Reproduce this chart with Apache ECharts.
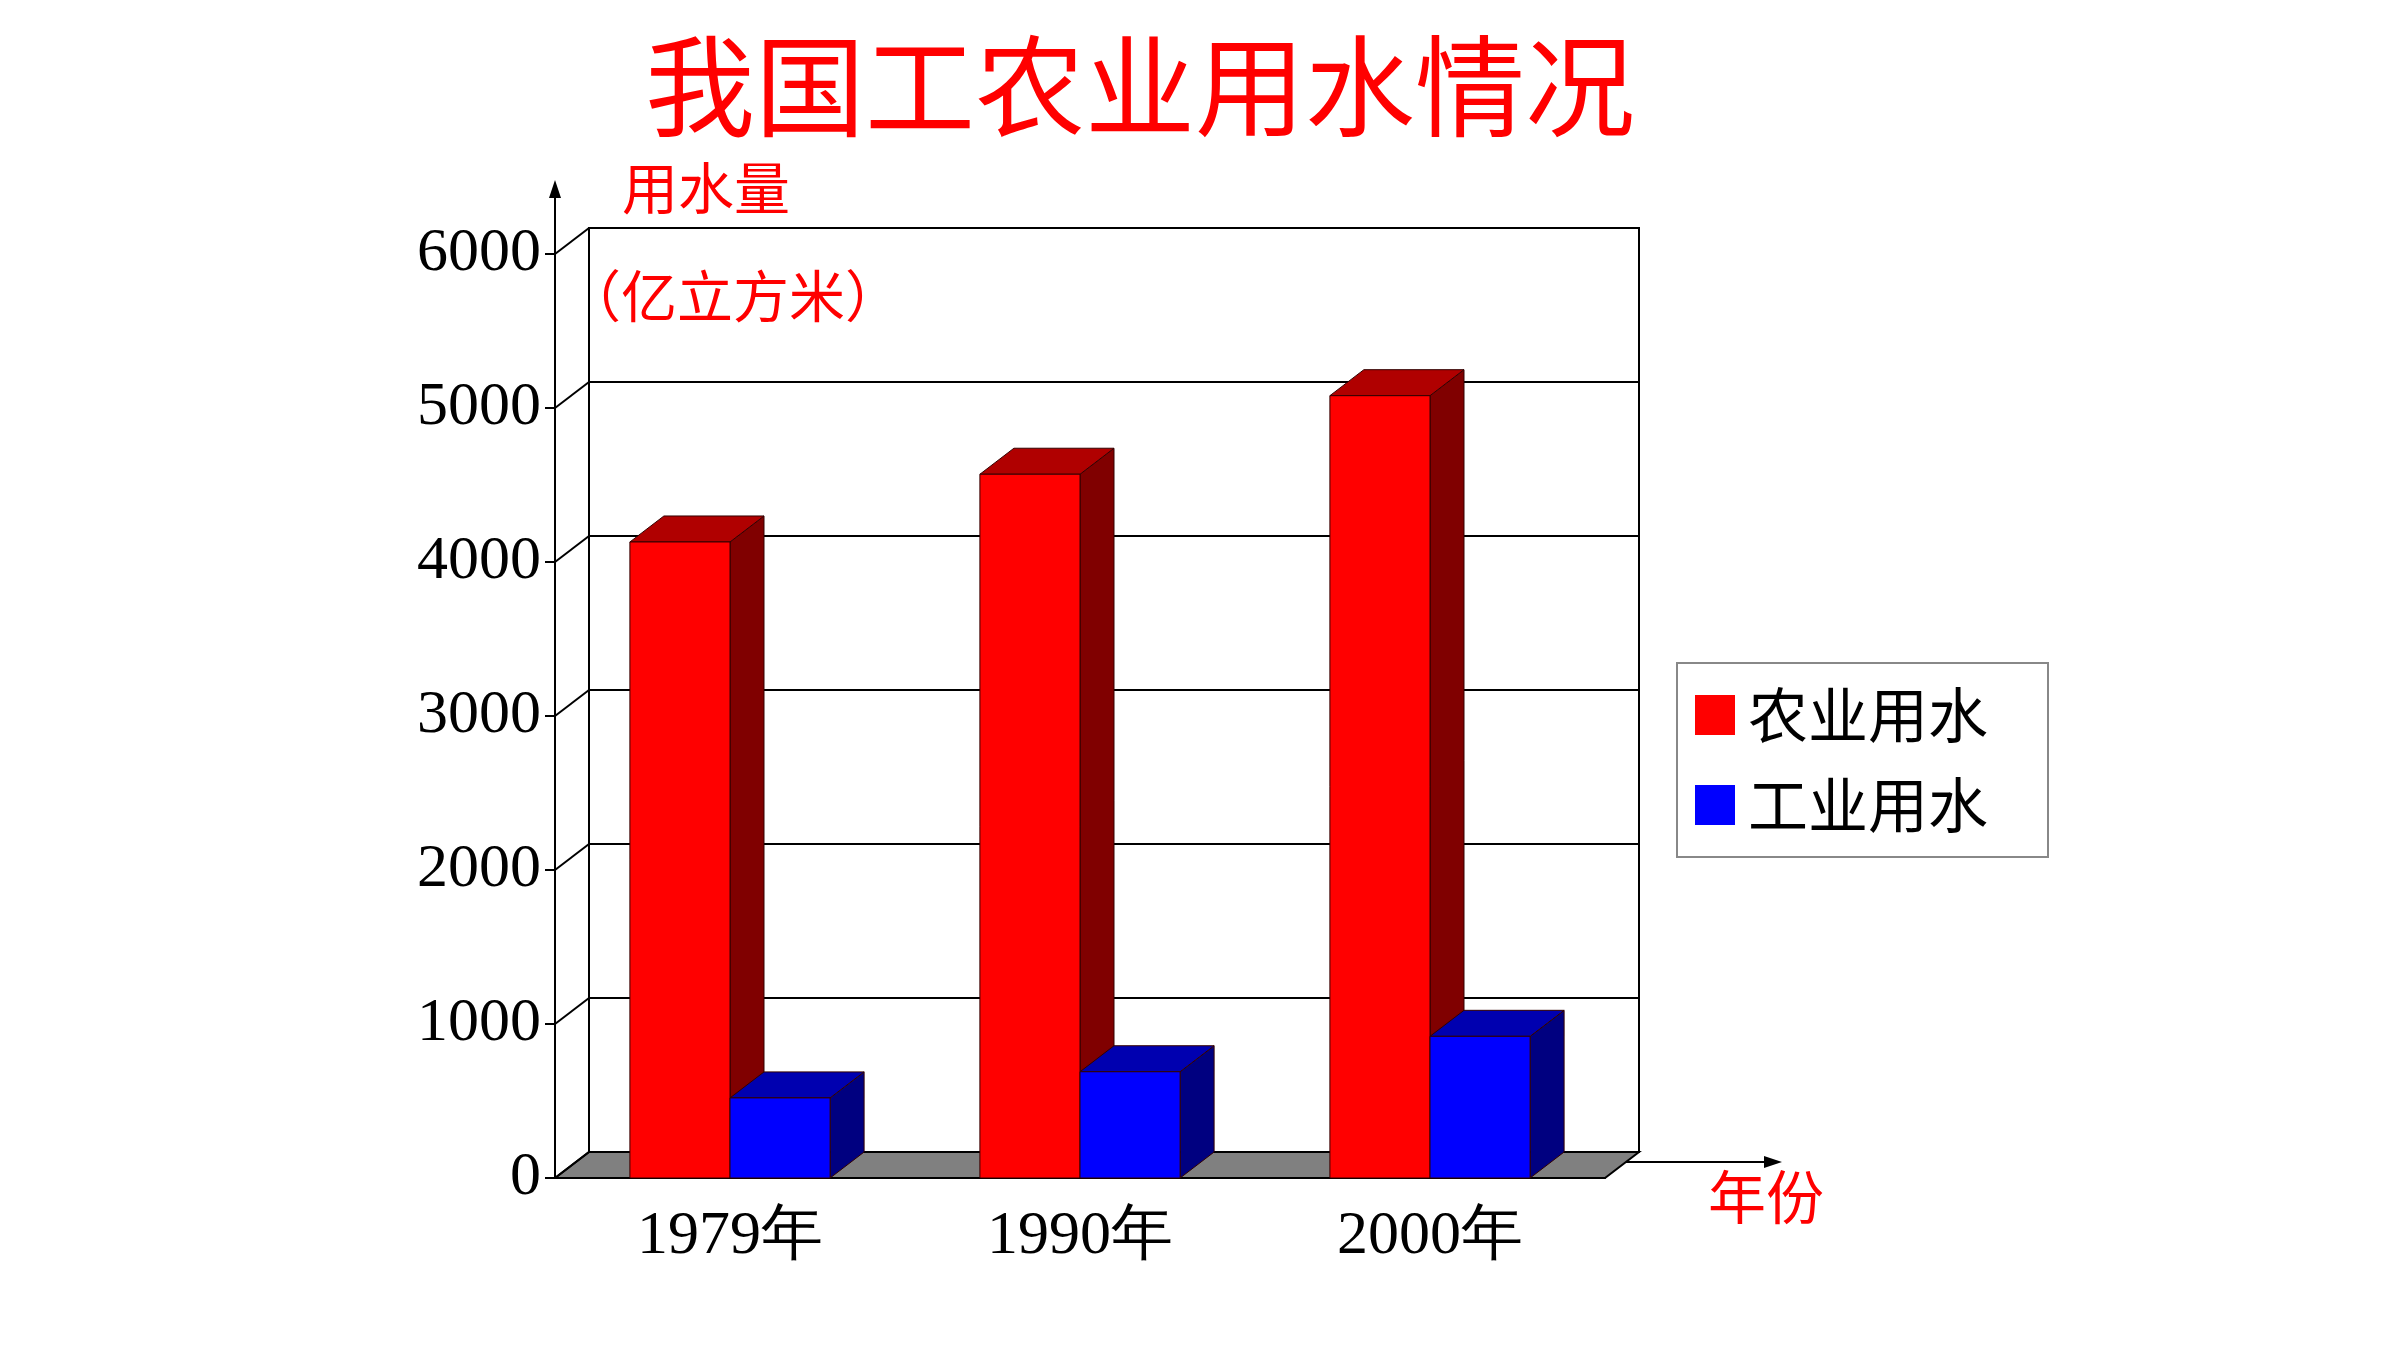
<!DOCTYPE html>
<html><head><meta charset="utf-8">
<script src="https://cdn.jsdelivr.net/npm/echarts@6/dist/echarts.min.js"></script>
<style>html,body{margin:0;padding:0;background:#fff}#c{width:2400px;height:1350px}</style>
</head><body><div id="c"></div>
<script>
const categories = ['1979年', '1990年', '2000年'];
const agriculture = [4130, 4570, 5080];
const industry = [520, 690, 920];
const yTicks = [0, 1000, 2000, 3000, 4000, 5000, 6000];

const DX = 34, DY = 26;
const CJK = '"Noto Sans CJK SC", sans-serif';
const SERIF = '"Liberation Serif", "DejaVu Serif", serif';

function barRender(side, colors) {
  return function (params, api) {
    const idx = api.value(0), v = api.value(1);
    const top = api.coord([idx, v]), bot = api.coord([idx, 0]);
    const w = api.size([1, 0])[0] * 0.286;
    const x0 = side < 0 ? top[0] - w : top[0], x1 = x0 + w;
    const yT = top[1], yB = bot[1];
    const st = { stroke: '#300', lineWidth: 1 };
    return { type: 'group', children: [
      { type: 'polygon', shape: { points: [[x1, yB], [x1 + DX, yB - DY], [x1 + DX, yT - DY], [x1, yT]] }, style: Object.assign({ fill: colors[2] }, st) },
      { type: 'polygon', shape: { points: [[x0, yT], [x0 + DX, yT - DY], [x1 + DX, yT - DY], [x1, yT]] }, style: Object.assign({ fill: colors[1] }, st) },
      { type: 'rect', shape: { x: x0, y: yT, width: w, height: yB - yT }, style: Object.assign({ fill: colors[0] }, st) }
    ]};
  };
}

const chart = echarts.init(document.getElementById('c'));
chart.setOption({
  animation: false,
  title: { text: '我国工农业用水情况', left: 1135, top: 26, textAlign: 'center',
    textStyle: { color: '#ff0000', fontSize: 110, fontWeight: 'normal', fontFamily: CJK } },
  legend: {
    orient: 'vertical', left: 1677, top: 663, width: 363,
    padding: [22, 60, 22, 18], itemGap: 30, itemWidth: 40, itemHeight: 40,
    borderColor: '#888', borderWidth: 2,
    textStyle: { fontSize: 60, fontFamily: CJK, color: '#000', padding: [0, 0, 0, 8] },
    data: [{ name: '农业用水', icon: 'rect' }, { name: '工业用水', icon: 'rect' }]
  },
  grid: [
    { left: 555, width: 1050, top: 254, height: 924, show: false },
    { left: 589, width: 1050, top: 228, height: 924, show: true, borderColor: '#000', borderWidth: 2, backgroundColor: 'transparent' }
  ],
  xAxis: [
    { type: 'category', gridIndex: 0, data: categories,
      axisLine: { lineStyle: { color: '#000', width: 2 } },
      axisTick: { show: true, length: 12, inside: true, lineStyle: { color: '#000', width: 2 } },
      axisLabel: { fontSize: 62, fontFamily: SERIF, color: '#000', margin: 28 } },
    { type: 'category', gridIndex: 1, data: categories, show: false }
  ],
  yAxis: [
    { type: 'value', gridIndex: 0, min: 0, max: 6000, interval: 1000,
      axisLine: { show: true, lineStyle: { color: '#000', width: 2 } },
      axisTick: { show: true, length: 10, lineStyle: { color: '#000', width: 2 } },
      axisLabel: { fontSize: 62, fontFamily: SERIF, color: '#000', margin: 14,
        padding: [40, 0, 0, 0], formatter: v => String(v) },
      splitLine: { show: false } },
    { type: 'value', gridIndex: 1, min: 0, max: 6000, interval: 1000,
      axisLine: { show: false }, axisTick: { show: false }, axisLabel: { show: false },
      splitLine: { show: true, lineStyle: { color: '#000', width: 2 } } }
  ],
  graphic: [
    { type: 'text', left: 622, top: 160, style: { text: '用水量', fill: '#ff0000', fontSize: 56, fontFamily: CJK } },
    { type: 'text', left: 565, top: 268, style: { text: '（亿立方米）', fill: '#ff0000', fontSize: 56, fontFamily: CJK } },
    { type: 'text', left: 1708, top: 1168, style: { text: '年份', fill: '#ff0000', fontSize: 58, fontFamily: CJK } },
    { type: 'line', shape: { x1: 555, y1: 260, x2: 555, y2: 188 }, style: { stroke: '#000', lineWidth: 2 } },
    { type: 'polygon', shape: { points: [[555, 180], [549, 198], [561, 198]] }, style: { fill: '#000' } },
    { type: 'line', shape: { x1: 1626, y1: 1162, x2: 1770, y2: 1162 }, style: { stroke: '#000', lineWidth: 2 } },
    { type: 'polygon', shape: { points: [[1782, 1162], [1764, 1156], [1764, 1168]] }, style: { fill: '#000' } }
  ],
  series: [
    { type: 'custom', xAxisIndex: 0, yAxisIndex: 0, silent: true, z: 1,
      data: yTicks.map(v => [0, v]),
      renderItem: function (params, api) {
        const p = api.coord([0, api.value(1)]);
        const x = params.coordSys.x, W = params.coordSys.width;
        const children = [{ type: 'line', shape: { x1: x, y1: p[1], x2: x + DX, y2: p[1] - DY }, style: { stroke: '#000', lineWidth: 2 } }];
        if (api.value(1) === 0) {
          children.unshift({ type: 'polygon', shape: { points: [[x, p[1]], [x + DX, p[1] - DY], [x + W + DX, p[1] - DY], [x + W, p[1]]] },
            style: { fill: '#808080', stroke: '#000', lineWidth: 2 } });
        }
        return { type: 'group', children: children };
      } },
    { name: '农业用水', type: 'custom', xAxisIndex: 0, yAxisIndex: 0, z: 3,
      itemStyle: { color: '#ff0000' },
      data: agriculture.map((v, i) => [i, v]),
      renderItem: barRender(-1, ['#ff0000', '#b00000', '#800000']) },
    { name: '工业用水', type: 'custom', xAxisIndex: 0, yAxisIndex: 0, z: 4,
      itemStyle: { color: '#0000ff' },
      data: industry.map((v, i) => [i, v]),
      renderItem: barRender(1, ['#0000ff', '#0000b0', '#000080']) }
  ]
});
</script></body></html>
